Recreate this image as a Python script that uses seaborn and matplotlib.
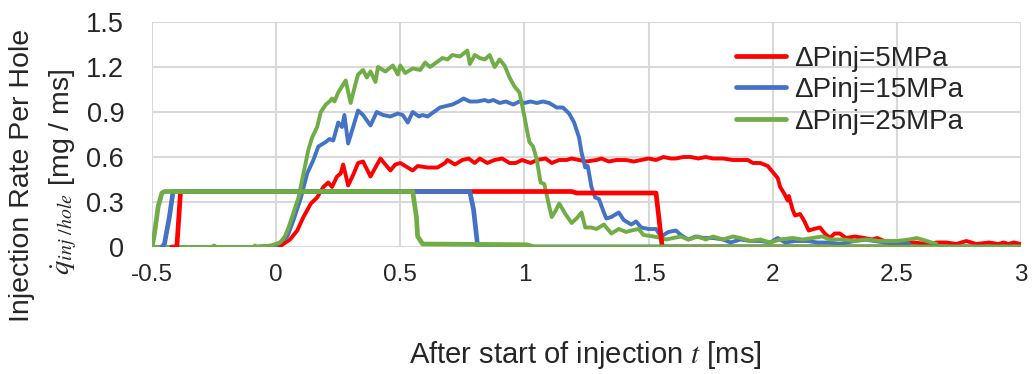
import matplotlib
matplotlib.use("Agg")
import matplotlib.pyplot as plt
import seaborn as sns
from matplotlib.ticker import FixedLocator, FuncFormatter

# Command pulses (step signals)
red_cmd_t = [-0.42, -0.40, -0.385, 1.19, 1.21, 1.53, 1.555, 3.0]
red_cmd_v = [0.0, 0.0, 0.37, 0.37, 0.36, 0.36, 0.0, 0.0]
blue_cmd_t = [-0.46, -0.45, -0.43, -0.415, 0.78, 0.795, 0.81, 0.815, 3.0]
blue_cmd_v = [0.0, 0.02, 0.20, 0.37, 0.37, 0.25, 0.03, 0.0, 0.0]
green_cmd_t = [-0.5, -0.49, -0.475, -0.46, -0.45, 0.55, 0.565, 0.57, 0.59, 1.01, 1.04, 3.0]
green_cmd_v = [0.0, 0.09, 0.27, 0.36, 0.37, 0.37, 0.20, 0.07, 0.02, 0.015, 0.0, 0.0]

# Measured injection rates
red_t = [-0.5, -0.1, 0.0, 0.02, 0.056, 0.085, 0.11, 0.14, 0.165, 0.19, 0.21, 0.225, 0.245, 0.26,
         0.27, 0.29, 0.31, 0.33, 0.35, 0.38, 0.40, 0.42, 0.44, 0.46, 0.48, 0.50, 0.52, 0.55, 0.57,
         0.61, 0.65, 0.68, 0.69, 0.72, 0.75, 0.775, 0.80, 0.82, 0.85, 0.88, 0.91, 0.94, 0.965,
         0.99, 1.025, 1.05, 1.085, 1.11, 1.14, 1.17, 1.19, 1.22, 1.25, 1.29, 1.31, 1.34, 1.37,
         1.41, 1.44, 1.47, 1.50, 1.53, 1.56, 1.59, 1.61, 1.64, 1.67, 1.70, 1.73, 1.76, 1.80,
         1.84, 1.88, 1.90, 1.92, 1.95, 1.98, 2.0, 2.02, 2.03, 2.045, 2.06, 2.065, 2.08, 2.09,
         2.11, 2.125, 2.145, 2.165, 2.19, 2.21, 2.23, 2.25, 2.27, 2.295, 2.33, 2.37, 2.40, 2.42,
         2.45, 2.48, 2.52, 2.57, 2.62, 2.66, 2.70, 2.74, 2.78, 2.82, 2.87, 2.91, 2.93, 2.95,
         2.97, 3.0]
red_v = [0.0, 0.0, 0.0, 0.01, 0.05, 0.11, 0.20, 0.29, 0.33, 0.40, 0.43, 0.40, 0.47, 0.49,
         0.55, 0.41, 0.48, 0.56, 0.57, 0.47, 0.53, 0.59, 0.55, 0.51, 0.55, 0.56, 0.54, 0.51, 0.54,
         0.53, 0.53, 0.56, 0.58, 0.55, 0.58, 0.59, 0.56, 0.59, 0.56, 0.58, 0.59, 0.56, 0.56,
         0.58, 0.56, 0.58, 0.59, 0.56, 0.58, 0.58, 0.59, 0.58, 0.57, 0.58, 0.59, 0.57, 0.58,
         0.58, 0.57, 0.58, 0.59, 0.58, 0.60, 0.59, 0.59, 0.60, 0.60, 0.59, 0.60, 0.59, 0.59,
         0.58, 0.58, 0.58, 0.56, 0.56, 0.54, 0.50, 0.46, 0.40, 0.36, 0.31, 0.34, 0.25, 0.21,
         0.22, 0.18, 0.11, 0.12, 0.13, 0.09, 0.06, 0.09, 0.09, 0.06, 0.07, 0.06, 0.05, 0.06,
         0.04, 0.04, 0.03, 0.03, 0.02, 0.03, 0.03, 0.02, 0.04, 0.02, 0.03, 0.02, 0.03, 0.02,
         0.03, 0.02]

blue_t = [-0.5, -0.1, 0.0, 0.045, 0.07, 0.10, 0.125, 0.15, 0.17, 0.20, 0.215, 0.23, 0.25, 0.265,
          0.275, 0.29, 0.31, 0.33, 0.35, 0.38, 0.405, 0.43, 0.46, 0.49, 0.51, 0.53, 0.55, 0.575,
          0.59, 0.61, 0.635, 0.66, 0.685, 0.71, 0.735, 0.755, 0.78, 0.81, 0.84, 0.855, 0.875,
          0.90, 0.925, 0.955, 0.98, 1.0, 1.025, 1.05, 1.075, 1.10, 1.13, 1.155, 1.18, 1.20, 1.22,
          1.23, 1.245, 1.255, 1.27, 1.285, 1.30, 1.32, 1.33, 1.35, 1.38, 1.40, 1.43, 1.45, 1.47,
          1.50, 1.53, 1.55, 1.58, 1.61, 1.63, 1.66, 1.69, 1.72, 1.76, 1.80, 1.83, 1.87, 1.91,
          1.95, 1.99, 2.02, 2.05, 2.09, 2.14, 2.18, 2.23, 2.27, 2.33, 2.37, 2.41, 2.45, 2.50, 2.55]
blue_v = [0.0, 0.0, 0.01, 0.07, 0.18, 0.33, 0.49, 0.58, 0.67, 0.70, 0.72, 0.71, 0.83, 0.80,
          0.88, 0.69, 0.80, 0.91, 0.88, 0.81, 0.90, 0.88, 0.87, 0.89, 0.88, 0.83, 0.90, 0.87,
          0.88, 0.87, 0.90, 0.93, 0.94, 0.95, 0.97, 0.99, 0.97, 0.97, 0.98, 0.97, 0.98,
          0.96, 0.97, 0.95, 0.97, 0.96, 0.97, 0.96, 0.97, 0.96, 0.93, 0.93, 0.89, 0.83, 0.73,
          0.63, 0.53, 0.54, 0.40, 0.33, 0.32, 0.23, 0.19, 0.20, 0.23, 0.18, 0.15, 0.17, 0.13,
          0.12, 0.12, 0.07, 0.10, 0.11, 0.08, 0.05, 0.07, 0.06, 0.06, 0.05, 0.03, 0.05, 0.04,
          0.04, 0.03, 0.06, 0.03, 0.04, 0.04, 0.03, 0.03, 0.02, 0.04, 0.05, 0.04, 0.03, 0.02, 0.02]

green_t = [-0.5, -0.26, -0.25, -0.24, -0.09, -0.085, -0.08, -0.02, 0.016, 0.035, 0.05, 0.07, 0.09,
           0.11, 0.13, 0.145, 0.165, 0.18, 0.20, 0.215, 0.225, 0.235, 0.25, 0.28, 0.30, 0.32, 0.33,
           0.35, 0.365, 0.38, 0.40, 0.41, 0.44, 0.47, 0.49, 0.50, 0.52, 0.55, 0.58, 0.60, 0.62,
           0.645, 0.67, 0.69, 0.71, 0.74, 0.77, 0.78, 0.80, 0.82, 0.84, 0.86, 0.88, 0.90, 0.92,
           0.94, 0.96, 0.98, 1.0, 1.01, 1.02, 1.035, 1.05, 1.065, 1.08, 1.10, 1.11, 1.125, 1.14,
           1.165, 1.19, 1.21, 1.23, 1.245, 1.27, 1.29, 1.32, 1.35, 1.38, 1.41, 1.43, 1.46, 1.48,
           1.52, 1.55, 1.57, 1.60, 1.63, 1.66, 1.70, 1.73, 1.76, 1.80, 1.84, 1.87, 1.91, 1.95,
           1.99, 2.03, 2.08, 2.12, 2.16, 2.20, 2.23, 2.28, 2.33, 2.38, 2.43, 2.50, 2.55, 2.58,
           2.60, 2.64, 2.66]
green_v = [0.0, 0.0, 0.01, 0.0, 0.0, 0.01, 0.0, 0.01, 0.03, 0.07, 0.13, 0.23, 0.33,
           0.49, 0.65, 0.73, 0.80, 0.90, 0.95, 0.97, 0.99, 0.97, 1.03, 1.11, 0.96, 1.09, 1.15,
           1.18, 1.13, 1.17, 1.10, 1.20, 1.17, 1.21, 1.15, 1.21, 1.16, 1.19, 1.18, 1.23, 1.20,
           1.23, 1.26, 1.25, 1.28, 1.27, 1.31, 1.22, 1.28, 1.26, 1.25, 1.28, 1.20, 1.25, 1.21,
           1.13, 1.07, 1.03, 0.87, 0.78, 0.70, 0.67, 0.58, 0.43, 0.42, 0.27, 0.20, 0.24, 0.29,
           0.22, 0.16, 0.19, 0.23, 0.13, 0.13, 0.12, 0.15, 0.09, 0.12, 0.10, 0.11, 0.12, 0.08,
           0.07, 0.06, 0.05, 0.06, 0.07, 0.05, 0.07, 0.05, 0.07, 0.05, 0.07, 0.06, 0.04, 0.05,
           0.03, 0.05, 0.06, 0.05, 0.06, 0.07, 0.05, 0.05, 0.04, 0.05, 0.04, 0.04, 0.05, 0.06,
           0.05, 0.03, 0.02]

labels = ["ΔPinj=5MPa", "ΔPinj=15MPa", "ΔPinj=25MPa"]
colors = ["#FF0000", "#4472C4", "#70AD47"]
x_ticks = [-0.5, 0, 0.5, 1, 1.5, 2, 2.5, 3]
y_ticks = [0, 0.3, 0.6, 0.9, 1.2, 1.5]

sns.set_style("whitegrid", {"grid.color": "#D9D9D9"})
plt.rcParams["font.family"] = ["Liberation Sans", "DejaVu Sans"]
plt.rcParams["mathtext.fontset"] = "stix"

fig = plt.figure(figsize=(10.33, 3.74), dpi=100)
ax = fig.add_axes([152 / 1033, 127 / 374, 869 / 1033, 225 / 374])

rates = [(red_t, red_v), (blue_t, blue_v), (green_t, green_v)]
cmds = [(red_cmd_t, red_cmd_v), (blue_cmd_t, blue_cmd_v), (green_cmd_t, green_cmd_v)]

for (t, v), c, lab in zip(rates, colors, labels):
    sns.lineplot(x=t, y=v, ax=ax, color=c, linewidth=2.8, estimator=None, sort=False, label=lab)
for (t, v), c in zip(cmds, colors):
    sns.lineplot(x=t, y=v, ax=ax, color=c, linewidth=3.4, estimator=None, sort=False)

ax.set_xlim(-0.5, 3)
ax.set_ylim(0, 1.5)
ax.xaxis.set_major_locator(FixedLocator(x_ticks))
ax.yaxis.set_major_locator(FixedLocator(y_ticks))
fmt = FuncFormatter(lambda val, pos: f"{val:g}")
ax.xaxis.set_major_formatter(fmt)
ax.yaxis.set_major_formatter(fmt)
ax.tick_params(axis="y", labelsize=19.5, pad=20, length=0)
ax.tick_params(axis="x", labelsize=17.5, pad=12, length=0)
ax.grid(True, color="#D9D9D9", linewidth=1.5)
for s in ax.spines.values():
    s.set_visible(False)
ax.set_xlabel("")
ax.set_ylabel("")

fig.text(22 / 1033, 1 - 175 / 374, "Injection Rate Per Hole", rotation=90,
         ha="center", va="center", fontsize=20.5)
fig.text(63 / 1033, 1 - 172 / 374, r"$\dot{q}_{inj\ /hole}$ [mg / ms]", rotation=90,
         ha="center", va="center", fontsize=20.5)
fig.text(585 / 1033, 1 - 355 / 374, r"After start of injection $t$ [ms]",
         ha="center", va="center", fontsize=21)

leg = ax.legend(loc="upper left", bbox_to_anchor=(0.672, 0.895), frameon=False,
                fontsize=20, handlelength=1.8, handletextpad=0.3, labelspacing=0.2,
                borderpad=0, borderaxespad=0)
for line in leg.get_lines():
    line.set_linewidth(3.4)

fig.savefig("out.png", dpi=100)
